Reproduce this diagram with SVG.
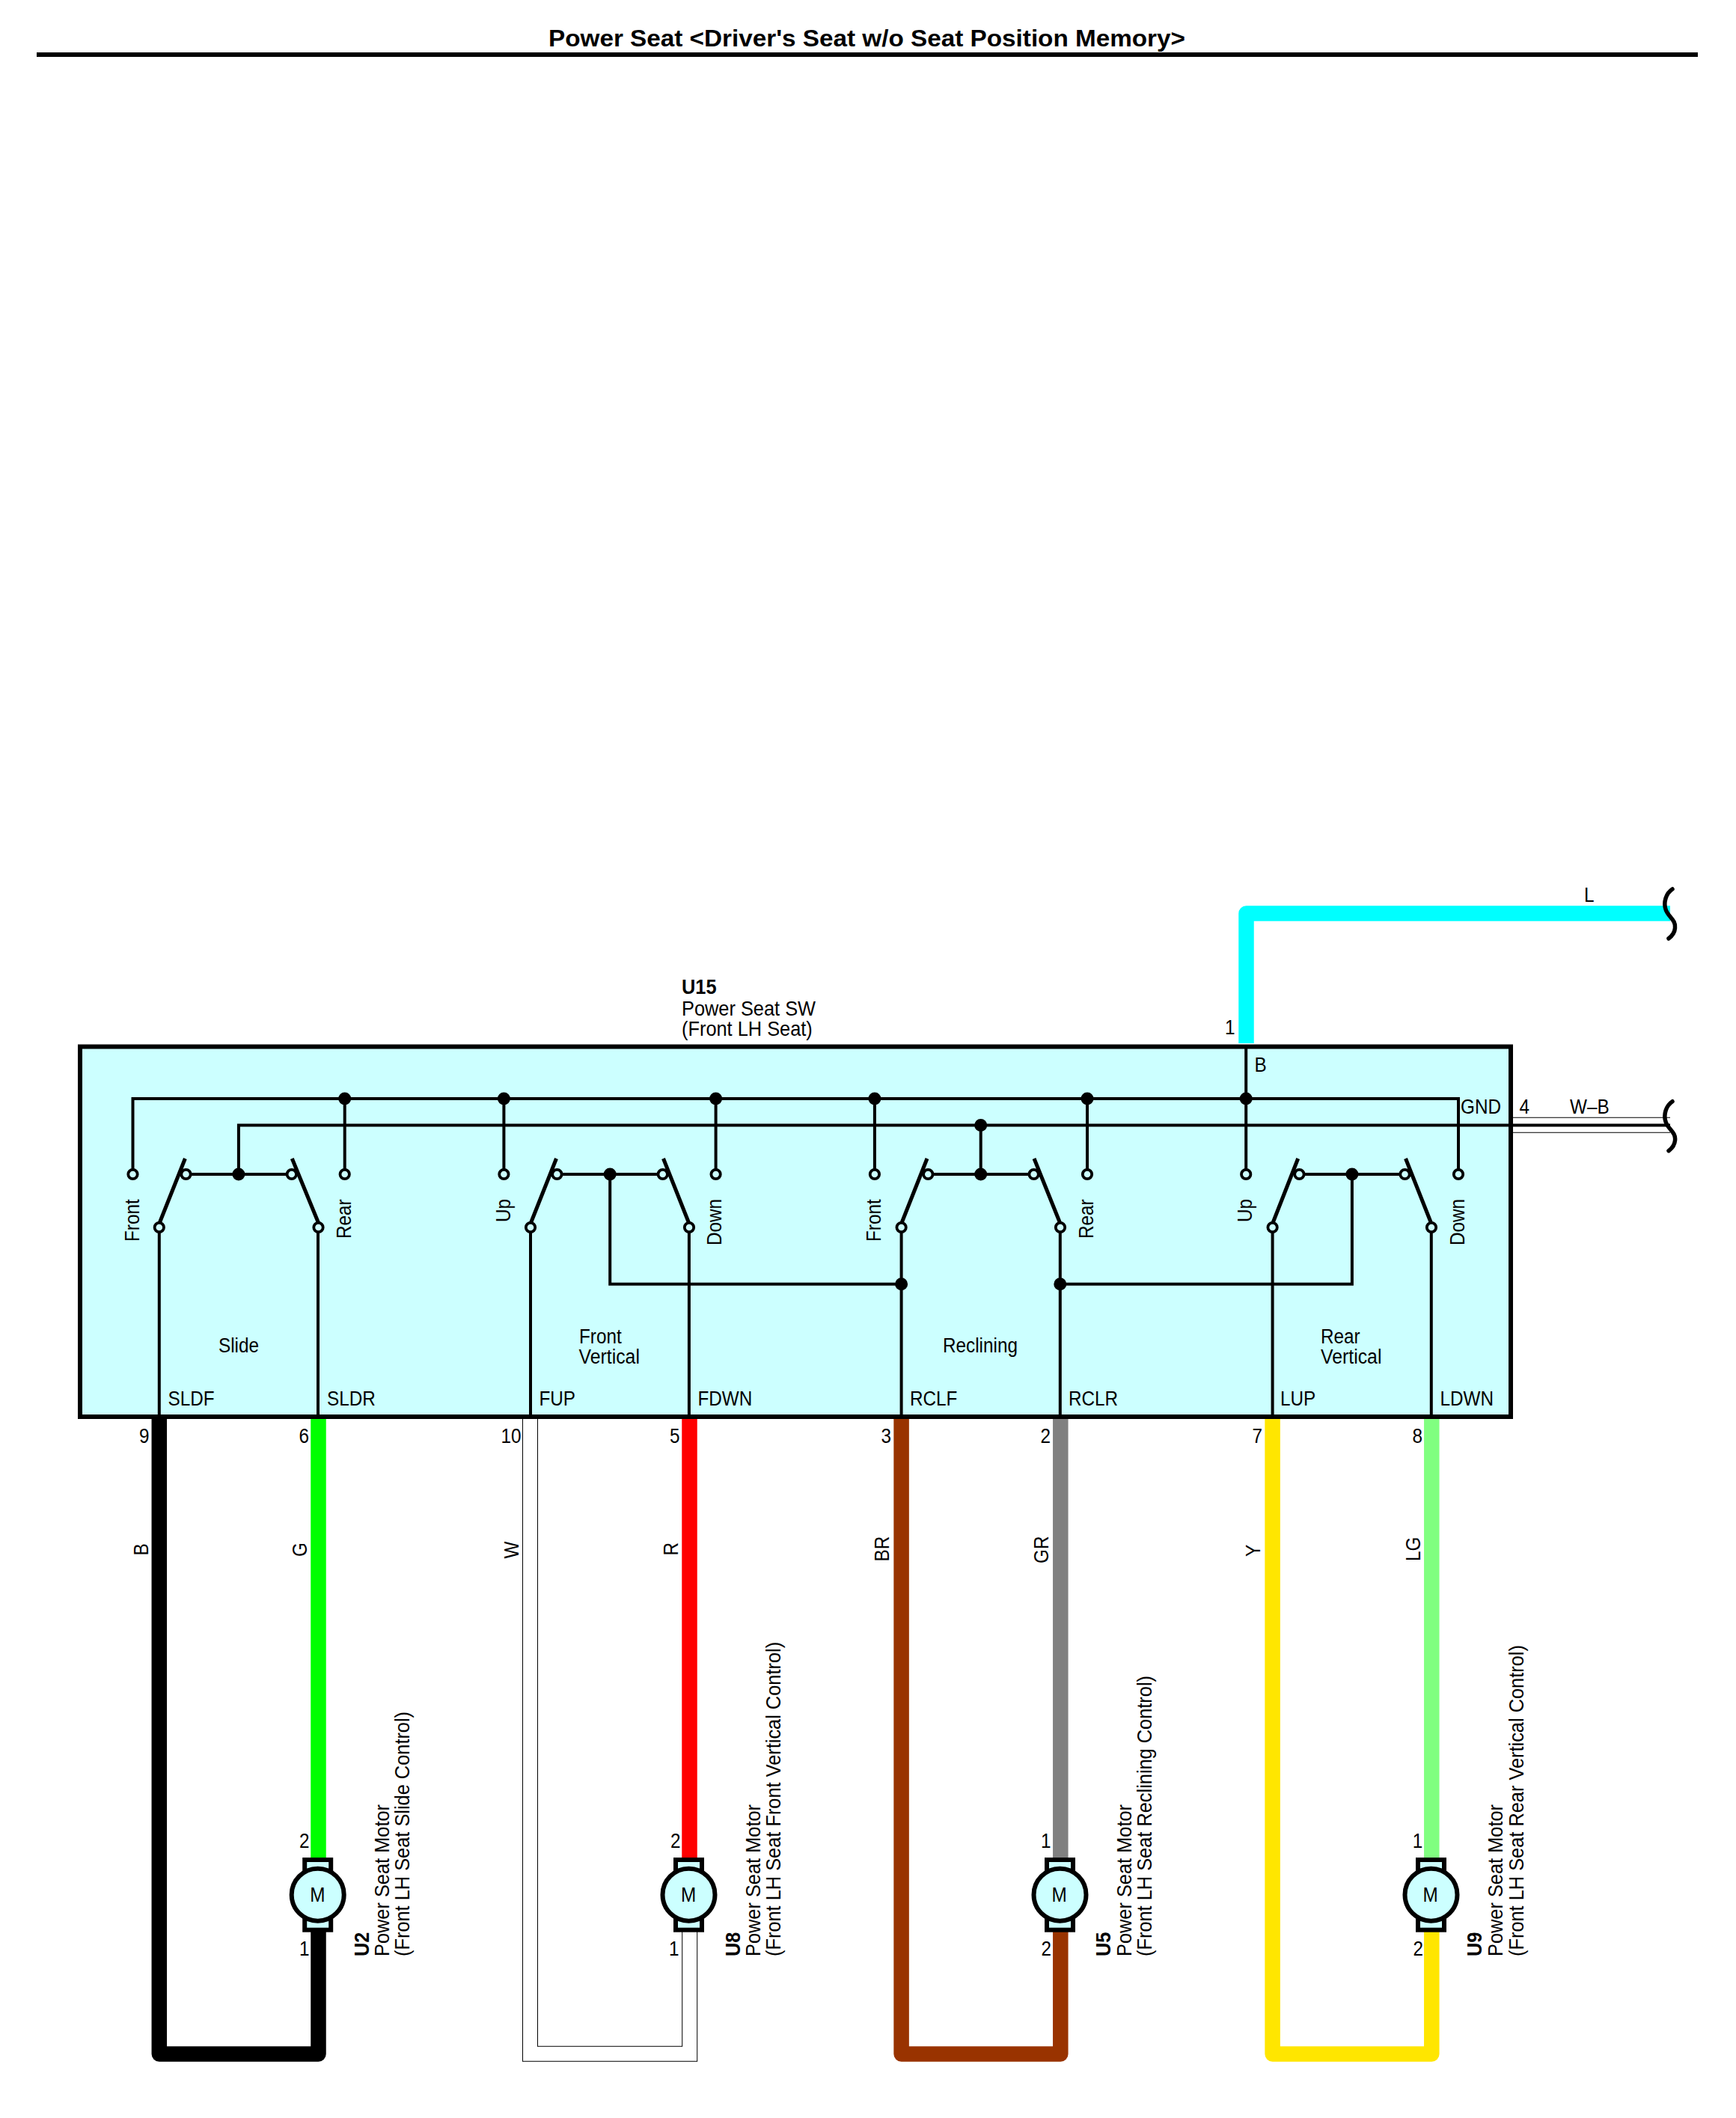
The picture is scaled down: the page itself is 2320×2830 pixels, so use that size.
<svg xmlns="http://www.w3.org/2000/svg" xmlns:xlink="http://www.w3.org/1999/xlink" width="2320" height="2830" viewBox="0 0 2320 2830">
<style>
text{font-family:"Liberation Sans",Arial,sans-serif;font-size:27px;fill:#000}
.b{font-weight:bold}
.title{font-size:32px;font-weight:bold}
.w{fill:none;stroke-width:20.500;stroke-linejoin:round}
.wo{fill:none;stroke:#000;stroke-width:21;stroke-linejoin:miter}
.wi{fill:none;stroke:#fff;stroke-width:19;stroke-linejoin:miter}
.l{fill:none;stroke:#000;stroke-width:4}
.blade{fill:none;stroke:#000;stroke-width:5}
.term{fill:#ccffff;stroke:#000;stroke-width:3.800}
.dot{fill:#000}
.brk{fill:none;stroke:#000;stroke-width:5.500;stroke-linecap:round}
.body{fill:#ccffff;stroke:#000;stroke-width:6}
</style>
<defs>
<path id="break" class="brk" d="M2235 1188C2226 1194 2223 1206 2226 1215C2229 1225 2240 1229 2238.500 1240C2238 1247 2234 1251 2230 1254"/>
<g id="motor"><rect class="body" x="-17.500" y="-46.700" width="35" height="93.700"/><circle class="body" r="35"/></g>
<circle id="t" class="term" r="6.200"/>
<circle id="d" class="dot" r="8.500"/>
</defs>
<rect width="2320" height="2830" fill="#fff"/>
<g id="title">
<text class="title" x="733" y="62" textLength="851" lengthAdjust="spacingAndGlyphs">Power Seat &lt;Driver's Seat w/o Seat Position Memory&gt;</text>
<rect x="49" y="70" width="2220" height="6" fill="#000"/>
</g>
<g id="connectors">
<path class="w" stroke="#00ffff" d="M1665.500 1394V1220.500H2232"/>
<path class="wo" d="M2019 1503.300H2232"/><path class="wi" d="M2019 1503.300H2232"/>
<path class="w" stroke="#000" d="M212.800 1893V2744.500H425.500V2575"/>
<path class="w" stroke="#00ff00" d="M425.500 1893V2485"/>
<path class="wo" d="M708.500 1893V2744.300H921.700V2575"/><path class="wi" d="M708.500 1893V2744.300H921.700V2575"/>
<path class="w" stroke="#ff0000" d="M921.500 1893V2485"/>
<path class="w" stroke="#993300" d="M1204.600 1893V2744.500H1417.300V2575"/>
<path class="w" stroke="#808080" d="M1417.300 1893V2485"/>
<path class="w" stroke="#ffe600" d="M1700.600 1893V2744.500H1913.300V2575"/>
<path class="w" stroke="#80ff80" d="M1913.300 1893V2485"/>
<use xlink:href="#break" href="#break"/>
<use xlink:href="#break" href="#break" y="283.700"/>
<text transform="translate(2117 1205) scale(.9 1)">L</text>
<text transform="translate(2098 1488) scale(.9 1)">W–B</text>
<text transform="translate(198.300 2078.500) rotate(-90) scale(.9 1)">B</text>
<text transform="translate(410 2080) scale(1) rotate(-90) scale(.9 1)">G</text>
<text transform="translate(693 2082.500) rotate(-90) scale(.9 1)">W</text>
<text transform="translate(905.500 2078.500) rotate(-90) scale(.9 1)">R</text>
<text transform="translate(1188 2086.500) rotate(-90) scale(.9 1)">BR</text>
<text transform="translate(1401 2089) rotate(-90) scale(.9 1)">GR</text>
<text transform="translate(1684 2080) rotate(-90) scale(.9 1)">Y</text>
<text transform="translate(1897.500 2086) rotate(-90) scale(.9 1)">LG</text>
</g>
<g id="U15">
<rect x="107" y="1398.500" width="1912" height="494.500" fill="#ccffff" stroke="#000" stroke-width="6"/>
<path class="l" d="M177.500 1569V1468H1949V1569M460.700 1468V1569M673.400 1468V1569M956.600 1468V1569M1168.900 1468V1569M1453 1468V1569M1665.200 1400V1569"/>
<path class="l" d="M318.900 1569V1503.600H2232M1310.700 1503.600V1569"/>
<path class="l" d="M248.500 1569H389.800M744.400 1569H885.700M1240.300 1569H1381.600M1736.400 1569H1877.500"/>
<path class="l" d="M815.200 1569V1715.800H1204.600M1416.800 1715.800H1806.900V1569"/>
<path class="l" d="M212.800 1640V1893M425 1640V1893M709 1640V1893M920.900 1640V1893M1204.600 1640V1893M1416.800 1640V1893M1700.600 1640V1893M1912.800 1640V1893"/>
<path class="blade" d="M212.800 1635L247.400 1548M426 1635L390.300 1548M709 1635L743.500 1548M921 1635L886.500 1548M1204.600 1635L1239 1548M1417 1635L1382 1548M1700.600 1635L1734.700 1548M1912.900 1635L1878.500 1548"/>
<g>
<use xlink:href="#t" href="#t" x="177.500" y="1569"/><use xlink:href="#t" href="#t" x="460.700" y="1569"/><use xlink:href="#t" href="#t" x="673.400" y="1569"/><use xlink:href="#t" href="#t" x="956.600" y="1569"/><use xlink:href="#t" href="#t" x="1168.900" y="1569"/><use xlink:href="#t" href="#t" x="1453" y="1569"/><use xlink:href="#t" href="#t" x="1665.200" y="1569"/><use xlink:href="#t" href="#t" x="1949" y="1569"/>
<use xlink:href="#t" href="#t" x="248.500" y="1569"/><use xlink:href="#t" href="#t" x="389.800" y="1569"/><use xlink:href="#t" href="#t" x="744.400" y="1569"/><use xlink:href="#t" href="#t" x="885.700" y="1569"/><use xlink:href="#t" href="#t" x="1240.300" y="1569"/><use xlink:href="#t" href="#t" x="1381.600" y="1569"/><use xlink:href="#t" href="#t" x="1736.400" y="1569"/><use xlink:href="#t" href="#t" x="1877.500" y="1569"/>
<use xlink:href="#t" href="#t" x="212.800" y="1640"/><use xlink:href="#t" href="#t" x="425.500" y="1640"/><use xlink:href="#t" href="#t" x="709" y="1640"/><use xlink:href="#t" href="#t" x="921" y="1640"/><use xlink:href="#t" href="#t" x="1204.600" y="1640"/><use xlink:href="#t" href="#t" x="1417" y="1640"/><use xlink:href="#t" href="#t" x="1700.600" y="1640"/><use xlink:href="#t" href="#t" x="1913" y="1640"/>
</g>
<g>
<use xlink:href="#d" href="#d" x="460.700" y="1468"/><use xlink:href="#d" href="#d" x="673.400" y="1468"/><use xlink:href="#d" href="#d" x="956.600" y="1468"/><use xlink:href="#d" href="#d" x="1168.900" y="1468"/><use xlink:href="#d" href="#d" x="1453" y="1468"/><use xlink:href="#d" href="#d" x="1665.200" y="1468"/>
<use xlink:href="#d" href="#d" x="1310.700" y="1503.600"/>
<use xlink:href="#d" href="#d" x="318.900" y="1569"/><use xlink:href="#d" href="#d" x="815.200" y="1569"/><use xlink:href="#d" href="#d" x="1310.700" y="1569"/><use xlink:href="#d" href="#d" x="1806.900" y="1569"/>
<use xlink:href="#d" href="#d" x="1204.600" y="1715.800"/><use xlink:href="#d" href="#d" x="1416.800" y="1715.800"/>
</g>
<text class="b" transform="translate(911 1327.600) scale(.94 1)">U15</text>
<text transform="translate(911 1356.600) scale(.94 1)">Power Seat SW</text>
<text transform="translate(911 1384) scale(.94 1)">(Front LH Seat)</text>
<text transform="translate(1637 1382) scale(.9 1)">1</text>
<text transform="translate(1676.500 1432) scale(.9 1)">B</text>
<text transform="translate(1952 1488) scale(.9 1)">GND</text>
<text transform="translate(2030.500 1488) scale(.9 1)">4</text>
<text transform="translate(185.700 1659) rotate(-90) scale(.9 1)">Front</text>
<text transform="translate(469 1655) rotate(-90) scale(.9 1)">Rear</text>
<text transform="translate(682 1633) rotate(-90) scale(.9 1)">Up</text>
<text transform="translate(964 1664) rotate(-90) scale(.9 1)">Down</text>
<text transform="translate(1177 1659) rotate(-90) scale(.9 1)">Front</text>
<text transform="translate(1461 1655) rotate(-90) scale(.9 1)">Rear</text>
<text transform="translate(1673 1633) rotate(-90) scale(.9 1)">Up</text>
<text transform="translate(1956.500 1664) rotate(-90) scale(.9 1)">Down</text>
<text transform="translate(292 1807) scale(.9 1)">Slide</text>
<text transform="translate(774 1795) scale(.9 1)">Front</text>
<text transform="translate(773.500 1822) scale(.92 1)">Vertical</text>
<text transform="translate(1260 1807) scale(.9 1)">Reclining</text>
<text transform="translate(1765 1795) scale(.9 1)">Rear</text>
<text transform="translate(1765 1822) scale(.92 1)">Vertical</text>
<text transform="translate(224.500 1878) scale(.9 1)">SLDF</text>
<text transform="translate(437 1878) scale(.9 1)">SLDR</text>
<text transform="translate(720.500 1878) scale(.9 1)">FUP</text>
<text transform="translate(932.500 1878) scale(.9 1)">FDWN</text>
<text transform="translate(1216 1878) scale(.9 1)">RCLF</text>
<text transform="translate(1428 1878) scale(.9 1)">RCLR</text>
<text transform="translate(1711 1878) scale(.9 1)">LUP</text>
<text transform="translate(1924.500 1878) scale(.9 1)">LDWN</text>
<text transform="translate(186 1928) scale(.9 1)">9</text>
<text transform="translate(399.500 1928) scale(.9 1)">6</text>
<text transform="translate(669.500 1928) scale(.9 1)">10</text>
<text transform="translate(895 1928) scale(.9 1)">5</text>
<text transform="translate(1177.500 1928) scale(.9 1)">3</text>
<text transform="translate(1390.500 1928) scale(.9 1)">2</text>
<text transform="translate(1673.500 1928) scale(.9 1)">7</text>
<text transform="translate(1887.500 1928) scale(.9 1)">8</text>
</g>
<g id="U2">
<use xlink:href="#motor" href="#motor" x="424.700" y="2531.700"/>
<text transform="translate(424.300 2540.500) scale(.9 1)" text-anchor="middle">M</text>
<text transform="translate(400 2469.300) scale(.9 1)">2</text>
<text transform="translate(400 2612.700) scale(.9 1)">1</text>
<text class="b" transform="translate(492.900 2614) rotate(-90) scale(.94 1)">U2</text>
<text transform="translate(519.900 2614) rotate(-90) scale(.94 1)">Power Seat Motor</text>
<text transform="translate(547 2614) rotate(-90) scale(.94 1)">(Front LH Seat Slide Control)</text>
</g>
<g id="U8">
<use xlink:href="#motor" href="#motor" x="920.500" y="2531.700"/>
<text transform="translate(920 2540.500) scale(.9 1)" text-anchor="middle">M</text>
<text transform="translate(896 2469.300) scale(.9 1)">2</text>
<text transform="translate(894 2612.700) scale(.9 1)">1</text>
<text class="b" transform="translate(988.500 2614) rotate(-90) scale(.94 1)">U8</text>
<text transform="translate(1016 2614) rotate(-90) scale(.94 1)">Power Seat Motor</text>
<text transform="translate(1043 2614) rotate(-90) scale(.94 1)">(Front LH Seat Front Vertical Control)</text>
</g>
<g id="U5">
<use xlink:href="#motor" href="#motor" x="1416.500" y="2531.700"/>
<text transform="translate(1415.500 2540.500) scale(.9 1)" text-anchor="middle">M</text>
<text transform="translate(1391 2469.300) scale(.9 1)">1</text>
<text transform="translate(1391.500 2612.700) scale(.9 1)">2</text>
<text class="b" transform="translate(1483.500 2614) rotate(-90) scale(.94 1)">U5</text>
<text transform="translate(1511.500 2614) rotate(-90) scale(.94 1)">Power Seat Motor</text>
<text transform="translate(1539 2614) rotate(-90) scale(.94 1)">(Front LH Seat Reclining Control)</text>
</g>
<g id="U9">
<use xlink:href="#motor" href="#motor" x="1912.500" y="2531.700"/>
<text transform="translate(1911.500 2540.500) scale(.9 1)" text-anchor="middle">M</text>
<text transform="translate(1887.700 2469.300) scale(.9 1)">1</text>
<text transform="translate(1888.400 2612.700) scale(.9 1)">2</text>
<text class="b" transform="translate(1979.500 2614) rotate(-90) scale(.94 1)">U9</text>
<text transform="translate(2007.500 2614) rotate(-90) scale(.94 1)">Power Seat Motor</text>
<text transform="translate(2035.500 2614) rotate(-90) scale(.94 1)">(Front LH Seat Rear Vertical Control)</text>
</g>
</svg>
